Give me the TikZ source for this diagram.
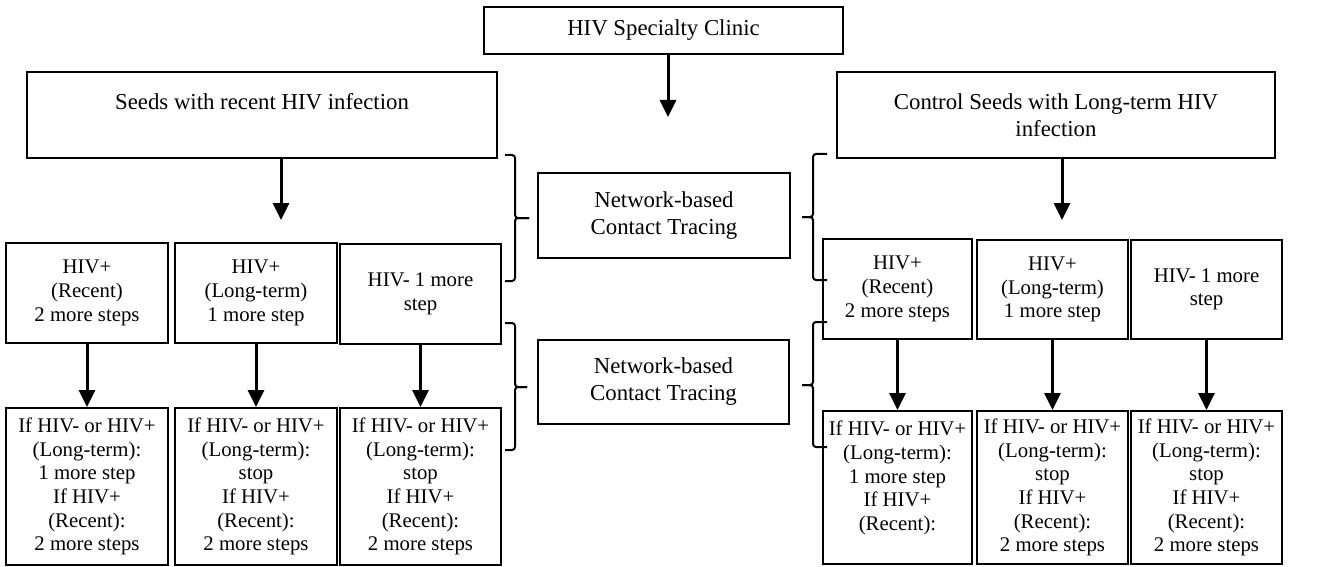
\documentclass[tikz,border=0pt]{standalone}
\usepackage{fontspec}
\setmainfont{Liberation Serif}
\usetikzlibrary{arrows.meta}
\tikzset{
  box/.style={draw,line width=1pt,align=center,inner sep=0pt},
  bigbox/.style={box,font=\fontsize{11.4}{13.5}\selectfont},
  rowbox/.style={box,font=\fontsize{10.4}{11.8}\selectfont},
  arr/.style={line width=1.5pt,-{Triangle[width=8pt,length=8.5pt]}},
  brc/.style={line width=1pt,rounded corners=1.5pt},
}
% 括弧: 端x, 縦線x, 先端x, 上y, 先端y, 下y
\newcommand{\brc}[6]{%
  \draw[brc] (#1,#4) -| (#2,#5) -- (#3,#5);
  \draw[brc] (#3,#5) -- (#2,#5) |- (#1,#6);}
\begin{document}
\begin{tikzpicture}[x=0.5pt,y=-0.5pt]
  \useasboundingbox (0,0) rectangle (1323,567);
  % 上段
  \node[bigbox,minimum width=179.5pt,minimum height=23.5pt] (clinic) at (663.5,30.5) {HIV Specialty Clinic};
  \node[bigbox,minimum width=235pt,minimum height=43pt] (seedL) at (262,115) {Seeds with recent HIV infection\\\mbox{}};
  \node[bigbox,minimum width=219pt,minimum height=43pt] (seedR) at (1056,115) {Control Seeds with Long-term HIV\\infection};
  \coordinate (c0) at (668,117);
  \coordinate (cL) at (281,220);
  \coordinate (cR) at (1062,220);
  \draw[arr] (clinic.south -| c0) -- (c0);
  \draw[arr] (seedL.south -| cL) -- (cL);
  \draw[arr] (seedR.south -| cR) -- (cR);
  % 中央
  \node[bigbox,minimum width=126pt,minimum height=42.5pt] (net1) at (664,215.5) {Network-based\\Contact Tracing};
  \node[bigbox,minimum width=125.5pt,minimum height=42pt] (net2) at (663.5,382) {Network-based\\Contact Tracing};
  \brc{505}{515}{529}{155}{218}{281}
  \brc{505}{515}{527}{323}{387}{450}
  \brc{827}{813}{802}{154}{217}{280}
  \brc{827}{813}{802}{322}{385}{447}
  % 左側
  \node[rowbox,minimum width=81pt,minimum height=50pt] (L1) at (87,293) {HIV+\\(Recent)\\2 more steps};
  \node[rowbox,minimum width=81pt,minimum height=50pt] (L2) at (256,293) {HIV+\\(Long-term)\\1 more step};
  \node[rowbox,minimum width=80.5pt,minimum height=50pt] (L3) at (420.5,294) {HIV- 1 more\\step};
  \node[rowbox,minimum width=81pt,minimum height=78.5pt] (LB1) at (87,486.5) {If HIV- or HIV+\\(Long-term):\\1 more step\\If HIV+\\(Recent):\\2 more steps};
  \node[rowbox,minimum width=81pt,minimum height=78.5pt] (LB2) at (256,486.5) {If HIV- or HIV+\\(Long-term):\\stop\\If HIV+\\(Recent):\\2 more steps};
  \node[rowbox,minimum width=80.5pt,minimum height=78.5pt] (LB3) at (420.5,486.5) {If HIV- or HIV+\\(Long-term):\\stop\\If HIV+\\(Recent):\\2 more steps};
  \draw[arr] (L1) -- (LB1);
  \draw[arr] (L2) -- (LB2);
  \draw[arr] (L3) -- (LB3);
  % 右側
  \node[rowbox,minimum width=74.5pt,minimum height=50pt] (R1) at (897.5,289) {HIV+\\(Recent)\\2 more steps};
  \node[rowbox,minimum width=75.5pt,minimum height=49.5pt] (R2) at (1052.5,289.5) {HIV+\\(Long-term)\\1 more step};
  \node[rowbox,minimum width=75.5pt,minimum height=49.5pt] (R3) at (1206.5,289.5) {HIV- 1 more\\step};
  \node[rowbox,minimum width=74.5pt,minimum height=76.5pt] (RB1) at (897.5,487.5) {If HIV- or HIV+\\(Long-term):\\1 more step\\If HIV+\\(Recent):\\\mbox{}};
  \node[rowbox,minimum width=75.5pt,minimum height=76.5pt] (RB2) at (1052.5,487.5) {If HIV- or HIV+\\(Long-term):\\stop\\If HIV+\\(Recent):\\2 more steps};
  \node[rowbox,minimum width=75.5pt,minimum height=76.5pt] (RB3) at (1206.5,487.5) {If HIV- or HIV+\\(Long-term):\\stop\\If HIV+\\(Recent):\\2 more steps};
  \draw[arr] (R1) -- (RB1);
  \draw[arr] (R2) -- (RB2);
  \draw[arr] (R3) -- (RB3);
\end{tikzpicture}
\end{document}
